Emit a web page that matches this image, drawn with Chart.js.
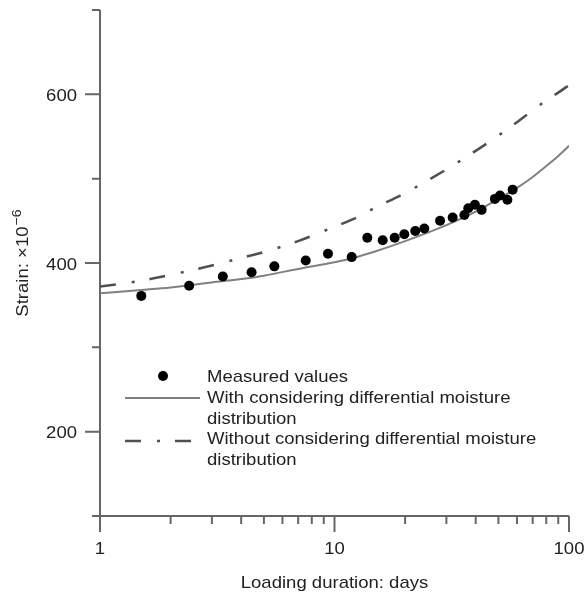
<!DOCTYPE html>
<html><head><meta charset="utf-8">
<script src="https://cdn.jsdelivr.net/npm/chart.js@4/dist/chart.umd.min.js"></script>
<style>html,body{margin:0;padding:0;background:#fff;}#wrap{width:584px;height:594px;}</style>
</head><body><div id="wrap"><canvas id="c" width="584" height="594"></canvas></div>
<script>
// ---- data ----
const measuredX = [1.5, 2.4, 3.34, 4.43, 5.54, 7.54, 9.38, 11.84, 13.8, 16.05, 18.06, 19.85, 22.1, 24.15, 28.2, 31.9, 35.8, 37.2, 39.7, 42.4, 48.3, 50.8, 54.6, 57.5];
const measuredY = [361, 373, 384, 389, 396, 403, 411, 407, 430, 427, 430, 434, 438, 441, 450, 454, 457, 465, 469, 463, 476, 480, 475, 487];
const curveX = [1, 1.5, 2, 3, 4, 5, 7, 10, 12, 15, 20, 30, 40, 50, 60, 70, 80, 90, 100];
const withMoistureY = [364, 368, 371, 377, 381, 385, 393, 401, 406, 414, 426, 445, 461, 476, 489, 502, 515, 527, 539];
const withoutMoistureY = [372, 379, 386, 397, 406, 413, 426, 443, 452, 466, 483, 511, 533, 551, 567, 581, 593, 602, 611];
const xTickLabels = [1, 10, 100];
const xMinorTicks = [2, 3, 4, 5, 6, 7, 8, 9, 20, 30, 40, 50, 60, 70, 80, 90];
const yTickLabels = [200, 400, 600];
const yMinorTicks = [100, 300, 500, 700];
const seriesLabels = ['Measured values', 'With considering differential moisture distribution', 'Without considering differential moisture distribution'];
const xTitle = 'Loading duration: days';
const yTitleMain = 'Strain: ×10';
const yTitleSup = '−6';

const FONT = '"Liberation Sans", Arial, Helvetica, sans-serif';
const SX = 1.09;
const DASH = [16, 16, 3, 15];

function txt(ctx, s, x, y, align, size, color) {
  ctx.save();
  ctx.translate(x, y);
  ctx.scale(SX, 1);
  ctx.font = size + 'px ' + FONT;
  ctx.fillStyle = color || '#222';
  ctx.textAlign = align;
  ctx.textBaseline = 'alphabetic';
  ctx.fillText(s, 0, 0);
  ctx.restore();
}

const axesPlugin = {
  id: 'axesPlugin',
  beforeDatasetsDraw(chart) {
    const ctx = chart.ctx, xs = chart.scales.x, ys = chart.scales.y;
    const L = xs.getPixelForValue(1), R = xs.getPixelForValue(100);
    const B = ys.getPixelForValue(100), T = ys.getPixelForValue(700);
    ctx.save();
    ctx.strokeStyle = '#666';
    ctx.lineWidth = 2;
    ctx.lineCap = 'butt';
    ctx.beginPath();
    ctx.moveTo(L, T); ctx.lineTo(L, B + 15);
    ctx.moveTo(L - 8, B); ctx.lineTo(R, B);
    yTickLabels.forEach(v => { const p = ys.getPixelForValue(v); ctx.moveTo(L - 15, p); ctx.lineTo(L, p); });
    yMinorTicks.forEach(v => { const p = ys.getPixelForValue(v); ctx.moveTo(L - 8, p); ctx.lineTo(L, p); });
    xTickLabels.forEach(v => { const p = xs.getPixelForValue(v); ctx.moveTo(p, B); ctx.lineTo(p, B + 16); });
    xMinorTicks.forEach(v => { const p = xs.getPixelForValue(v); ctx.moveTo(p, B); ctx.lineTo(p, B + 8); });
    ctx.stroke();
    ctx.restore();
  },
  afterDraw(chart) {
    const ctx = chart.ctx, xs = chart.scales.x, ys = chart.scales.y;
    const L = xs.getPixelForValue(1), R = xs.getPixelForValue(100);
    const B = ys.getPixelForValue(100), T = ys.getPixelForValue(700);
    yTickLabels.forEach(v => txt(ctx, String(v), L - 23, ys.getPixelForValue(v) + 6.5, 'right', 17));
    xTickLabels.forEach(v => txt(ctx, String(v), xs.getPixelForValue(v), B + 38, 'center', 17));
    txt(ctx, xTitle, (L + R) / 2, B + 72, 'center', 17);
    ctx.save();
    ctx.font = '17px ' + FONT;
    const w1 = ctx.measureText(yTitleMain).width * SX;
    ctx.font = '13px ' + FONT;
    const w2 = ctx.measureText(yTitleSup).width * SX;
    const total = w1 + 1 + w2;
    ctx.translate(28, (T + B) / 2);
    ctx.rotate(-Math.PI / 2);
    txt(ctx, yTitleMain, -total / 2, 0, 'left', 17);
    txt(ctx, yTitleSup, -total / 2 + w1 + 1, -7, 'left', 13);
    ctx.restore();
    const ds = chart.data.datasets;
    ctx.save();
    ctx.fillStyle = '#000';
    ctx.beginPath(); ctx.arc(163, 376, 5, 0, Math.PI * 2); ctx.fill();
    ctx.strokeStyle = ds[1].borderColor; ctx.lineWidth = ds[1].borderWidth;
    ctx.beginPath(); ctx.moveTo(125, 398); ctx.lineTo(200, 398); ctx.stroke();
    ctx.strokeStyle = ds[2].borderColor; ctx.lineWidth = ds[2].borderWidth;
    ctx.setLineDash(DASH);
    ctx.beginPath(); ctx.moveTo(125, 441); ctx.lineTo(191, 441); ctx.stroke();
    ctx.restore();
    const lines = [];
    const maxW = 330;
    ctx.font = '17px ' + FONT;
    seriesLabels.forEach(lbl => {
      const words = lbl.split(' ');
      let cur = '';
      words.forEach(w => {
        const test = cur ? cur + ' ' + w : w;
        if (ctx.measureText(test).width * SX > maxW && cur) { lines.push(cur); cur = w; }
        else cur = test;
      });
      lines.push(cur);
    });
    lines.forEach((s, i) => txt(ctx, s, 207, 382 + i * 20.8, 'left', 17));
  }
};

const toPts = (xa, ya) => xa.map((x, i) => ({ x: x, y: ya[i] }));

new Chart(document.getElementById('c'), {
  type: 'scatter',
  data: {
    datasets: [
      { label: seriesLabels[0], data: toPts(measuredX, measuredY), backgroundColor: '#000', borderWidth: 0, pointRadius: 5, showLine: false, order: 0 },
      { label: seriesLabels[1], data: toPts(curveX, withMoistureY), showLine: true, borderColor: '#808080', borderWidth: 2, pointRadius: 0, cubicInterpolationMode: 'monotone', order: 1 },
      { label: seriesLabels[2], data: toPts(curveX, withoutMoistureY), showLine: true, borderColor: '#505050', borderWidth: 2.5, borderDash: DASH, pointRadius: 0, cubicInterpolationMode: 'monotone', order: 2 }
    ]
  },
  options: {
    responsive: false,
    devicePixelRatio: 1,
    animation: false,
    layout: { padding: { left: 100, right: 15, top: 10, bottom: 78 } },
    plugins: { legend: { display: false }, tooltip: { enabled: false } },
    scales: {
      x: { type: 'logarithmic', min: 1, max: 100, display: false },
      y: { type: 'linear', min: 100, max: 700, display: false }
    }
  },
  plugins: [axesPlugin]
});
</script>
</body></html>
